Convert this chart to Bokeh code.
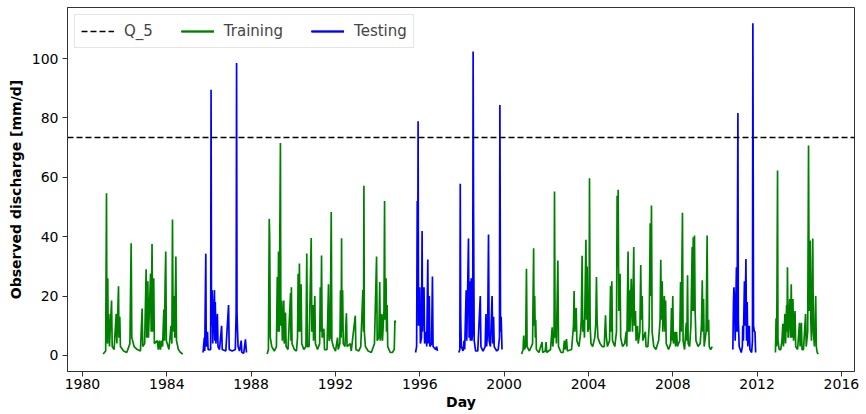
from bokeh.plotting import figure
from bokeh.models import FixedTicker, Legend, LegendItem, Range1d
from bokeh.embed import file_html
from bokeh.resources import INLINE

# ---- data (decimal year, observed discharge mm/d) ----
q5_threshold = 73.4

train_1 = [(1980.98, 0.5), (1981.10, 1.5), (1981.14, 54.6), (1981.16, 8), (1981.19, 4), (1981.20, 26),
           (1981.22, 6), (1981.25, 14), (1981.28, 3), (1981.38, 18.5), (1981.41, 3), (1981.50, 2),
           (1981.60, 14), (1981.63, 4), (1981.71, 23.3), (1981.73, 6), (1981.77, 13), (1981.80, 3),
           (1981.95, 1.5), (1982.10, 1.0), (1982.25, 4), (1982.29, 27), (1982.31, 37.8), (1982.34, 6),
           (1982.45, 3), (1982.60, 2), (1982.75, 1.5), (1982.83, 15.8), (1982.86, 3), (1982.95, 4),
           (1983.02, 29), (1983.05, 6), (1983.10, 25), (1983.13, 6), (1983.23, 27.6), (1983.26, 8),
           (1983.30, 37.5), (1983.33, 8), (1983.38, 26), (1983.41, 4), (1983.55, 5), (1983.60, 2),
           (1983.65, 5), (1983.70, 2), (1983.75, 5), (1983.80, 3), (1983.86, 15.5), (1983.89, 5),
           (1983.92, 24), (1983.95, 35), (1983.98, 5), (1984.10, 2), (1984.20, 10), (1984.24, 4),
           (1984.27, 45.8), (1984.30, 8), (1984.35, 20), (1984.38, 6), (1984.43, 33.3), (1984.46, 5),
           (1984.55, 2), (1984.65, 1), (1984.76, 0.5)]

test_1 = [(1985.72, 1.0), (1985.78, 6), (1985.80, 1.5), (1985.85, 34.3), (1985.87, 3), (1985.93, 8),
          (1985.96, 2), (1986.08, 2), (1986.10, 89.5), (1986.12, 10), (1986.15, 22), (1986.18, 4),
          (1986.22, 15), (1986.26, 22), (1986.28, 5), (1986.30, 18), (1986.33, 4), (1986.40, 14),
          (1986.43, 3), (1986.50, 2), (1986.60, 10), (1986.63, 2), (1986.80, 1.5), (1986.93, 17),
          (1986.96, 2), (1987.10, 1.5), (1987.25, 2), (1987.29, 14.5), (1987.31, 98.5), (1987.33, 14),
          (1987.38, 3), (1987.45, 1.5), (1987.53, 5), (1987.56, 1), (1987.65, 0.8), (1987.73, 5.4),
          (1987.78, 1)]

train_2 = [(1988.76, 0.5), (1988.82, 2), (1988.86, 46), (1988.88, 40), (1988.91, 6), (1988.98, 3),
           (1989.10, 1.5), (1989.20, 3), (1989.24, 26.4), (1989.27, 8), (1989.30, 35), (1989.33, 8),
           (1989.39, 71.6), (1989.41, 10), (1989.45, 18.5), (1989.48, 5), (1989.55, 18.5), (1989.57, 4),
           (1989.63, 14.5), (1989.66, 3), (1989.75, 2), (1989.87, 21), (1989.89, 5), (1989.91, 23),
           (1989.94, 4), (1990.05, 2), (1990.15, 1.5), (1990.20, 6), (1990.23, 27.5), (1990.26, 8),
           (1990.29, 31), (1990.32, 8), (1990.37, 24), (1990.40, 4), (1990.50, 2), (1990.60, 3),
           (1990.64, 34.3), (1990.67, 3), (1990.75, 3), (1990.85, 39.6), (1990.88, 8), (1990.93, 17),
           (1990.96, 5), (1991.02, 20), (1991.05, 4), (1991.15, 2), (1991.25, 4), (1991.28, 23),
           (1991.31, 8), (1991.34, 33.7), (1991.37, 6), (1991.45, 9), (1991.48, 2), (1991.60, 2),
           (1991.67, 24), (1991.70, 5), (1991.75, 6), (1991.80, 48.3), (1991.83, 5), (1991.90, 3),
           (1992.00, 1.5), (1992.10, 6), (1992.13, 2), (1992.21, 4), (1992.24, 22), (1992.27, 6),
           (1992.29, 39.5), (1992.31, 8), (1992.34, 22), (1992.37, 4), (1992.45, 3), (1992.52, 14.2),
           (1992.55, 3), (1992.70, 4), (1992.75, 1.5), (1992.94, 13.4), (1992.97, 2), (1993.10, 1.5),
           (1993.20, 3), (1993.30, 22), (1993.33, 8), (1993.35, 57.2), (1993.37, 8), (1993.42, 3),
           (1993.55, 1.5), (1993.70, 1), (1993.85, 4), (1993.95, 33.3), (1993.98, 5), (1994.06, 6),
           (1994.10, 24.7), (1994.13, 5), (1994.20, 14), (1994.23, 5), (1994.30, 15), (1994.33, 52),
           (1994.35, 12), (1994.40, 26), (1994.42, 8), (1994.45, 17), (1994.48, 3), (1994.60, 1),
           (1994.70, 1), (1994.79, 2), (1994.82, 11.8), (1994.85, 11)]

test_2 = [(1995.80, 1), (1995.85, 3), (1995.88, 52), (1995.90, 20), (1995.92, 78.9), (1995.94, 10),
          (1996.00, 23), (1996.03, 4), (1996.08, 6), (1996.11, 41.9), (1996.13, 8), (1996.20, 23),
          (1996.23, 4), (1996.30, 8), (1996.33, 3), (1996.38, 32.3), (1996.41, 4), (1996.45, 20),
          (1996.48, 3), (1996.56, 4), (1996.60, 26.6), (1996.63, 3), (1996.75, 2), (1996.80, 3),
          (1996.84, 1.5)]

test_3 = [(1997.85, 1), (1997.90, 2), (1997.92, 57.8), (1997.94, 13), (1997.97, 3), (1998.05, 1.5),
          (1998.10, 5), (1998.13, 2), (1998.20, 22), (1998.23, 5), (1998.31, 39.4), (1998.34, 6),
          (1998.37, 25), (1998.40, 5), (1998.44, 26), (1998.47, 5), (1998.51, 8), (1998.53, 102.4),
          (1998.55, 50), (1998.58, 5), (1998.65, 1.5), (1998.75, 1.5), (1998.87, 20), (1998.90, 3),
          (1999.00, 1.5), (1999.10, 3), (1999.14, 14), (1999.17, 3), (1999.22, 8), (1999.26, 40.7),
          (1999.29, 5), (1999.35, 3), (1999.43, 20), (1999.46, 4), (1999.50, 13), (1999.53, 3),
          (1999.65, 1.5), (1999.72, 2), (1999.78, 6), (1999.80, 84.4), (1999.83, 8), (1999.86, 13),
          (1999.90, 2)]

train_3 = [(2000.83, 0.5), (2000.90, 2), (2000.93, 6.7), (2000.96, 2), (2001.02, 3), (2001.06, 29.2),
           (2001.09, 3), (2001.20, 1.5), (2001.35, 4), (2001.40, 36.1), (2001.42, 10), (2001.45, 20),
           (2001.48, 6), (2001.50, 12), (2001.53, 2), (2001.65, 1), (2001.80, 4.5), (2001.83, 1),
           (2001.95, 1.5), (2001.99, 4.5), (2002.02, 1), (2002.20, 2), (2002.28, 9.5), (2002.31, 3),
           (2002.37, 8), (2002.39, 55.2), (2002.42, 6), (2002.45, 10), (2002.48, 4), (2002.55, 32),
           (2002.58, 3), (2002.70, 1), (2002.80, 1), (2002.86, 5), (2002.90, 2), (2002.96, 5.5),
           (2003.00, 1.5), (2003.20, 2), (2003.29, 10), (2003.32, 21.7), (2003.35, 8), (2003.42, 16),
           (2003.45, 5), (2003.55, 3), (2003.62, 7), (2003.66, 12), (2003.70, 33.6), (2003.73, 8),
           (2003.78, 12), (2003.81, 6), (2003.88, 39), (2003.91, 12), (2003.94, 30), (2003.97, 8),
           (2004.03, 10), (2004.05, 59.7), (2004.08, 10), (2004.12, 4), (2004.20, 3), (2004.30, 6),
           (2004.35, 11), (2004.38, 26.4), (2004.41, 12), (2004.45, 6), (2004.55, 4), (2004.65, 3),
           (2004.75, 3), (2004.81, 13.5), (2004.84, 7), (2004.90, 3), (2005.00, 5), (2005.05, 23.5),
           (2005.08, 8), (2005.11, 25), (2005.14, 5), (2005.25, 3), (2005.33, 8), (2005.36, 53.8),
           (2005.38, 30), (2005.41, 55.8), (2005.44, 15), (2005.50, 27.5), (2005.53, 6), (2005.62, 3),
           (2005.72, 4), (2005.79, 8), (2005.82, 3), (2005.88, 35), (2005.91, 8), (2005.94, 22),
           (2005.97, 8), (2006.03, 25.8), (2006.06, 15), (2006.09, 8), (2006.15, 36.5), (2006.18, 10),
           (2006.23, 15), (2006.26, 5), (2006.33, 10), (2006.36, 4), (2006.44, 8), (2006.48, 30.5),
           (2006.51, 12), (2006.55, 20), (2006.58, 5), (2006.70, 8), (2006.73, 3), (2006.82, 3),
           (2006.88, 10), (2006.93, 44.5), (2006.96, 20), (2006.99, 50.5), (2007.02, 8), (2007.10, 3),
           (2007.20, 2), (2007.33, 5), (2007.40, 12), (2007.43, 32.2), (2007.46, 12), (2007.50, 25),
           (2007.53, 8), (2007.60, 20), (2007.63, 8), (2007.66, 18.5), (2007.69, 4), (2007.80, 2),
           (2007.90, 4), (2007.94, 16), (2007.97, 5), (2008.00, 20), (2008.03, 4), (2008.10, 8),
           (2008.13, 3), (2008.18, 8), (2008.22, 3), (2008.33, 5), (2008.37, 24.7), (2008.40, 8),
           (2008.46, 48.1), (2008.49, 5), (2008.56, 2), (2008.64, 11), (2008.67, 5), (2008.70, 27),
           (2008.73, 4), (2008.80, 3), (2008.86, 10), (2008.92, 36.5), (2008.95, 15), (2008.97, 39.8),
           (2009.00, 15), (2009.03, 40.4), (2009.06, 15), (2009.10, 5), (2009.20, 3), (2009.30, 4),
           (2009.36, 10), (2009.40, 25.3), (2009.43, 8), (2009.46, 19), (2009.49, 3), (2009.58, 8),
           (2009.63, 40.4), (2009.66, 8), (2009.70, 12), (2009.73, 3), (2009.80, 2), (2009.87, 3)]

test_4 = [(2010.85, 2), (2010.88, 18), (2010.90, 23), (2010.93, 19), (2010.96, 5), (2011.02, 29.7),
          (2011.05, 8), (2011.09, 81.7), (2011.11, 12), (2011.15, 3), (2011.25, 1), (2011.30, 3),
          (2011.32, 10), (2011.35, 5), (2011.40, 25), (2011.43, 10), (2011.47, 32.5), (2011.50, 5),
          (2011.53, 18), (2011.56, 3), (2011.63, 10), (2011.66, 2), (2011.74, 1), (2011.78, 5),
          (2011.80, 111.9), (2011.83, 10), (2011.87, 8), (2011.90, 8), (2011.93, 1)]

train_4 = [(2012.87, 1), (2012.90, 12.5), (2012.93, 3), (2012.97, 62.3), (2012.99, 5), (2013.05, 2),
           (2013.12, 2), (2013.18, 5), (2013.22, 10.7), (2013.25, 3), (2013.32, 14), (2013.35, 4),
           (2013.40, 17), (2013.42, 8), (2013.44, 29.7), (2013.47, 6), (2013.55, 19), (2013.58, 6),
           (2013.62, 24), (2013.65, 6), (2013.70, 19), (2013.73, 5), (2013.80, 15), (2013.83, 3),
           (2013.92, 2), (2014.01, 11), (2014.04, 3), (2014.10, 11), (2014.13, 2), (2014.20, 2),
           (2014.30, 14), (2014.33, 3), (2014.40, 8), (2014.44, 70.7), (2014.47, 15), (2014.52, 38.7),
           (2014.55, 11), (2014.58, 5), (2014.64, 39.4), (2014.67, 8), (2014.72, 3), (2014.78, 20),
           (2014.81, 3), (2014.85, 1), (2014.90, 0.5)]

training_segments = [train_1, train_2, train_3, train_4]
testing_segments = [test_1, test_2, test_3, test_4]
year_ticks = list(range(1980, 2017, 4))
q_ticks = [0, 20, 40, 60, 80, 100]

FONT = "DejaVu Sans"
X0, X1 = 1979.29, 2016.62
Y0, Y1 = -5.4, 117.2

p = figure(width=866, height=414, output_backend="svg", toolbar_location=None,
           x_range=Range1d(X0, X1), y_range=Range1d(Y0, Y1),
           min_border_left=67, min_border_right=12, min_border_top=7, min_border_bottom=43)
p.background_fill_color = "white"
p.border_fill_color = "white"
p.outline_line_color = "#333333"
p.outline_line_width = 1
p.xgrid.visible = False
p.ygrid.visible = False

train_r = []
for seg in training_segments:
    xs = [a for a, b in seg]
    ys = [b for a, b in seg]
    train_r.append(p.line(xs, ys, line_color="green", line_width=1.7))

test_r = []
for seg in testing_segments:
    xs = [a for a, b in seg]
    ys = [b for a, b in seg]
    test_r.append(p.line(xs, ys, line_color="blue", line_width=1.7))

q5_line = p.line([X0, X1], [q5_threshold, q5_threshold], line_color="black",
                 line_width=1.4, line_dash="6 3")

for ax in (p.xaxis[0], p.yaxis[0]):
    ax.major_label_text_font = FONT
    ax.major_label_text_font_size = "14px"
    ax.major_label_text_color = "black"
    ax.axis_label_text_font = FONT
    ax.axis_label_text_font_size = "14px"
    ax.axis_label_text_font_style = "bold"
    ax.axis_label_text_color = "black"
    ax.major_tick_in = 0
    ax.major_tick_out = 5
    ax.minor_tick_line_color = None
    ax.axis_line_color = "#333333"
    ax.major_tick_line_color = "#333333"

p.xaxis[0].ticker = FixedTicker(ticks=year_ticks)
p.xaxis[0].axis_label = "Day"
p.xaxis[0].major_label_standoff = 2
p.xaxis[0].axis_label_standoff = 2
p.yaxis[0].ticker = FixedTicker(ticks=q_ticks)
p.yaxis[0].axis_label = "Observed discharge [mm/d]"
p.yaxis[0].major_label_standoff = 4
p.yaxis[0].axis_label_standoff = 5

legend = Legend(items=[LegendItem(label="Q_5", renderers=[q5_line]),
                       LegendItem(label="Training", renderers=train_r),
                       LegendItem(label="Testing", renderers=test_r)],
                location="top_left", orientation="horizontal")
legend.label_text_font = FONT
legend.label_text_font_size = "15px"
legend.glyph_width = 33
legend.label_standoff = 10
legend.spacing = 28
legend.padding = 6
legend.margin = 7
legend.border_line_color = "#cccccc"
legend.border_line_width = 1
legend.background_fill_alpha = 1.0
p.add_layout(legend)

open("out.html", "w").write(file_html(p, INLINE))
